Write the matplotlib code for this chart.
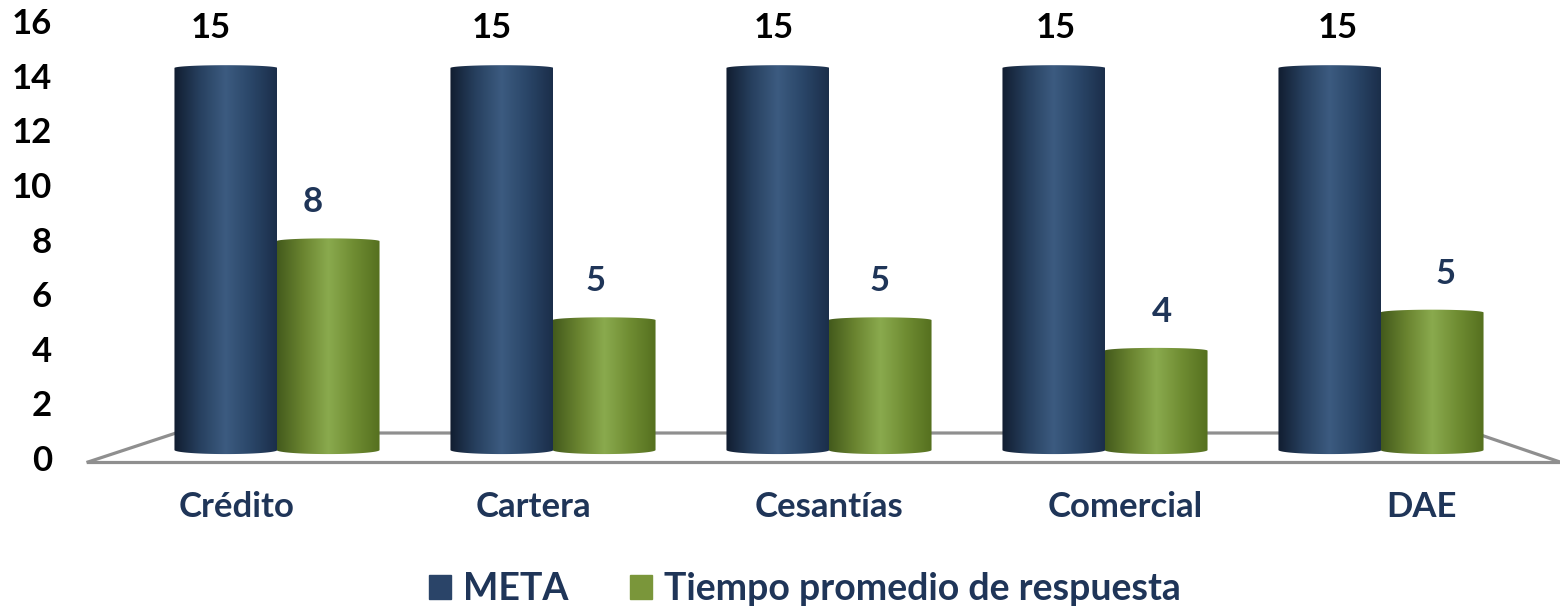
import numpy as np
import matplotlib
matplotlib.use('Agg')
import matplotlib.pyplot as plt
from matplotlib.colors import LinearSegmentedColormap
from matplotlib.path import Path
from matplotlib.patches import PathPatch, Patch
import matplotlib.transforms as mtransforms

categories = ['Crédito', 'Cartera', 'Cesantías', 'Comercial', 'DAE']
meta = [15, 15, 15, 15, 15]
tiempo = [8.2, 5.1, 5.1, 3.9, 5.4]
series_names = ['META', 'Tiempo promedio de respuesta']
y_ticks = [0, 2, 4, 6, 8, 10, 12, 14, 16]

plt.rcParams['font.family'] = ['Lato', 'DejaVu Sans']
plt.rcParams['font.weight'] = 'bold'

blue = '#2a4468'
green = '#7a963a'
navy = '#1f3558'
blue_cmap = LinearSegmentedColormap.from_list('b', ['#111d30', '#27405f', '#3c5b80', '#2a4668', '#1b2e4a'])
green_cmap = LinearSegmentedColormap.from_list('g', ['#435a1c', '#6a8430', '#8aaa4e', '#6f8c32', '#55701f'])

W, H = 1560, 609
fig = plt.figure(figsize=(W / 100, H / 100), dpi=100)
rect = [88 / W, 147 / H, 1472 / W, 462 / H]
ax = fig.add_axes(rect)
ax2 = fig.add_axes(rect)
ax2.patch.set_visible(False)

px_unit = 25.47
ybot = -12 / px_unit
ytop = 15 + 68 / px_unit
xl, xr = (88 - 277) / 276, (1560 - 277) / 276
ax.set_xlim(xl, xr)
ax.set_ylim(ybot, ytop)

# floor
back_y = 17 / px_unit
floor_x = [xl, (176 - 277) / 276, (1475 - 277) / 276, xr]
floor_y = [ybot, back_y, back_y, ybot]
ax.plot(floor_x, floor_y, color='#8f8f8f', lw=2.3, zorder=1, clip_on=False)
ax.plot([xl, xr], [ybot, ybot], color='#8f8f8f', lw=2.3, zorder=1, clip_on=False)


def cylinder(xc, h, w, cmap, z):
    e_top = 0.22
    e_bot = 0.32
    th = np.linspace(0, np.pi, 50)
    top = np.column_stack([xc - np.cos(th) * w / 2, h + np.sin(th) * e_top / 2])
    bot = np.column_stack([xc + np.cos(th) * w / 2, -np.sin(th) * e_bot / 2])
    verts = np.vstack([top, bot, top[:1]])
    codes = [Path.MOVETO] + [Path.LINETO] * (len(verts) - 2) + [Path.CLOSEPOLY]
    patch = PathPatch(Path(verts, codes), facecolor='none', edgecolor='none', zorder=z)
    ax.add_patch(patch)
    grad = np.linspace(0, 1, 256).reshape(1, -1)
    im = ax.imshow(grad, cmap=cmap, extent=[xc - w / 2, xc + w / 2, -e_bot, h + e_top],
                   aspect='auto', interpolation='bilinear', zorder=z)
    im.set_clip_path(patch)


w = 0.373
off = 0.185
for i in range(len(categories)):
    cylinder(i - off, meta[i], w, blue_cmap, 3)
    cylinder(i + off, tiempo[i], w, green_cmap, 4)
    ax.annotate(f'{meta[i]:.0f}', (i - off, meta[i]), xytext=((-4 + 5.8 * (i - 2)) * 0.72, 29),
                textcoords='offset points', ha='center', va='center', fontsize=25,
                fontweight='bold', color='black')
    ax.annotate(f'{tiempo[i]:.0f}', (i + off, tiempo[i]), xytext=((-1 + 7.2 * (i - 2)) * 0.72, 28),
                textcoords='offset points', ha='center', va='center', fontsize=25,
                fontweight='bold', color=navy)

ax.set_xlim(xl, xr)
ax.set_ylim(ybot, ytop)
ax.axis('off')

trans = mtransforms.blended_transform_factory(ax.transData, fig.transFigure)
for i, c in enumerate(categories):
    ax.text(i + 0.0725 * (i - 2), (H - 507) / H, c, transform=trans, ha='center', va='center',
            fontsize=25, fontweight='bold', color=navy)

# tick axis
t_unit = 27.3
ax2.set_ylim(-4 / t_unit, -4 / t_unit + 462 / t_unit)
ax2.set_yticks(y_ticks)
ax2.set_yticklabels([str(t) for t in y_ticks], fontsize=25, fontweight='bold')
ax2.tick_params(axis='y', length=0, pad=26)
ax2.set_xticks([])
for s in ax2.spines.values():
    s.set_visible(False)

handles = [Patch(color=blue), Patch(color=green)]
fig.legend(handles, series_names, loc='center', bbox_to_anchor=(805 / W, 20 / H), ncol=2,
           frameon=False, handlelength=0.59, handleheight=0.59, handletextpad=0.32,
           columnspacing=1.65, labelcolor=navy, prop={'weight': 'bold', 'size': 27})

fig.savefig('out.png', dpi=100)
